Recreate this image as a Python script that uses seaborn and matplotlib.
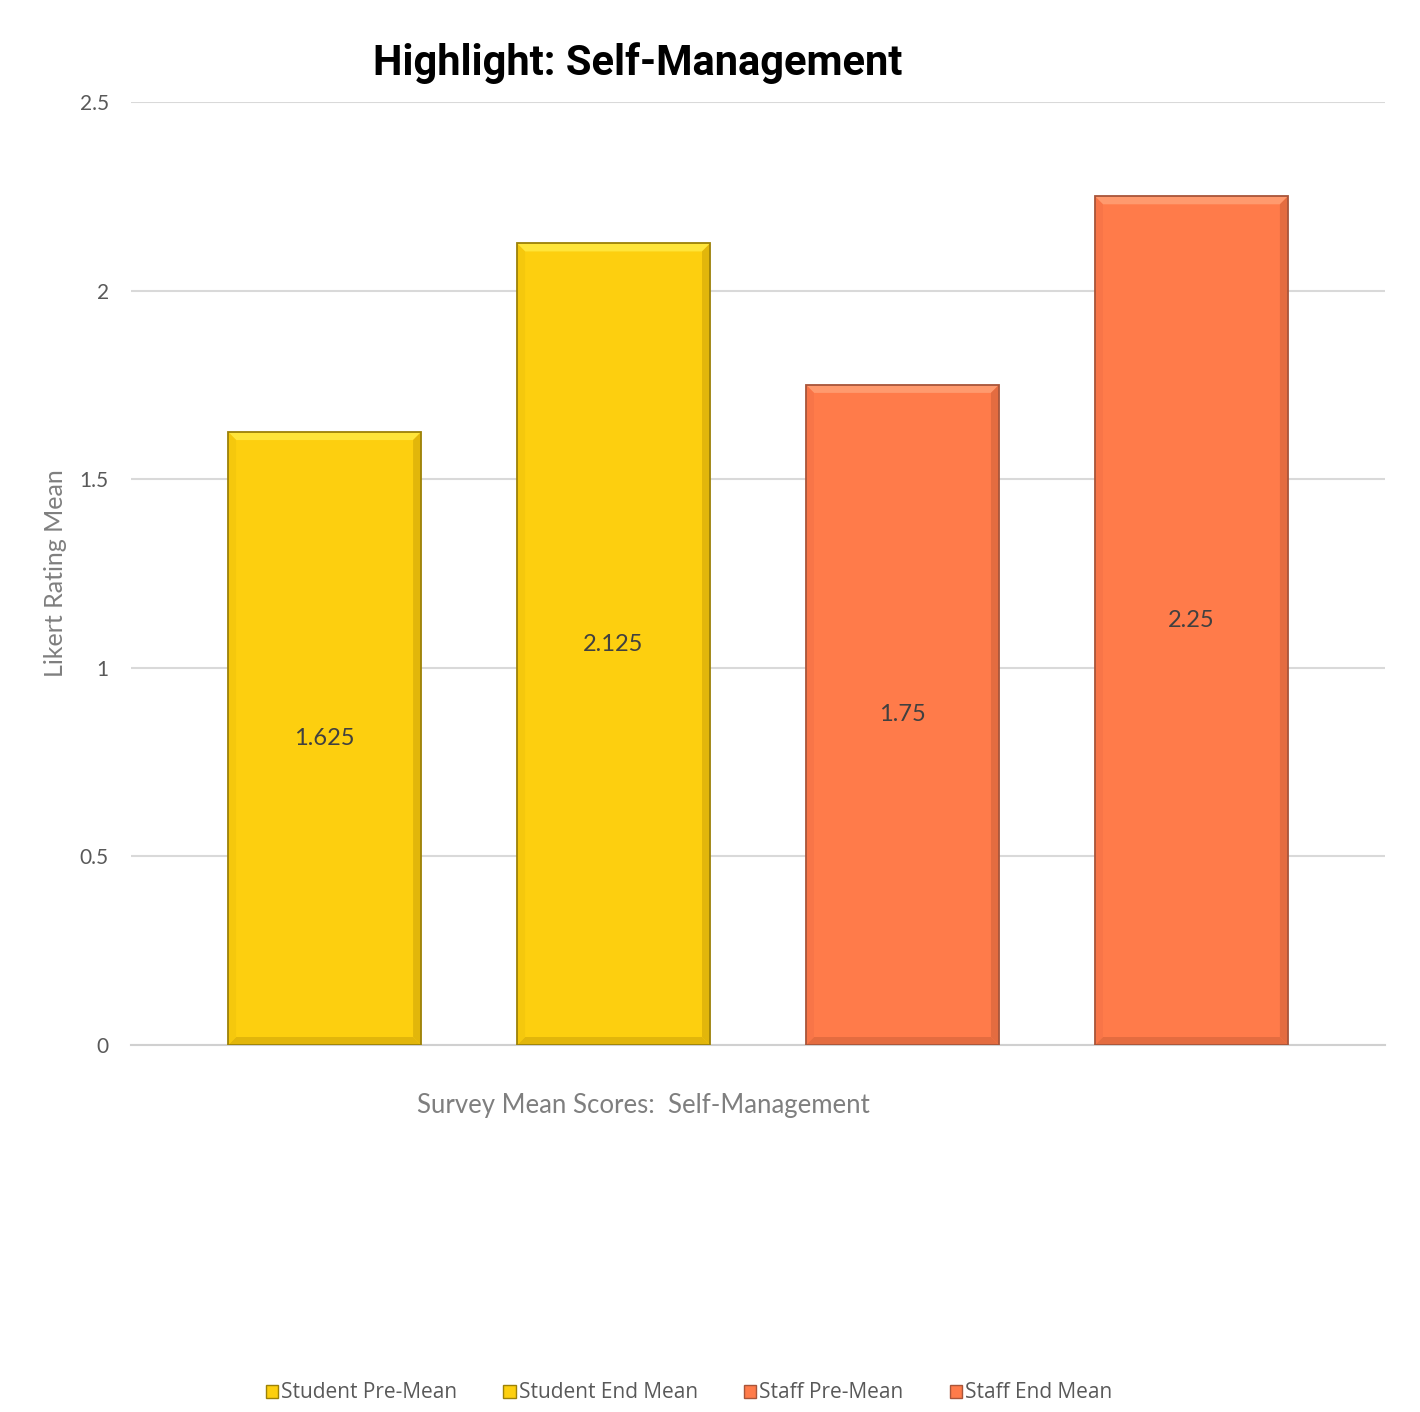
import matplotlib
matplotlib.use("Agg")
import matplotlib.pyplot as plt
import seaborn as sns
import pandas as pd
from matplotlib.patches import Patch, Polygon

categories = ["Student Pre-Mean", "Student End Mean", "Staff Pre-Mean", "Staff End Mean"]
values = [1.625, 2.125, 1.75, 2.25]
value_labels = ["1.625", "2.125", "1.75", "2.25"]
colors = ["#FDCF0F", "#FDCF0F", "#FF7B4A", "#FF7B4A"]
edge_colors = ["#9C8108", "#9C8108", "#A8553A", "#A8553A"]
top_bevel = ["#FFE53A", "#FFE53A", "#FF9A6E", "#FF9A6E"]
side_bevel = ["#F5C80D", "#F5C80D", "#F87548", "#F87548"]
bottom_bevel = ["#E2B60B", "#E2B60B", "#E46C40", "#E46C40"]
yticks = [0, 0.5, 1, 1.5, 2, 2.5]
ytick_labels = ["0", "0.5", "1", "1.5", "2", "2.5"]

sns.set_theme(style="white")
plt.rcParams["font.family"] = ["Lato", "DejaVu Sans"]

fig = plt.figure(figsize=(14.2, 14.12), dpi=100)
ax = fig.add_axes([131/1420, 1-1045/1412, (1385-131)/1420, (1045-102)/1412])

df = pd.DataFrame({"cat": categories, "val": values})
sns.barplot(data=df, x="cat", y="val", hue="cat", palette=colors, legend=False,
            width=0.668, ax=ax, saturation=1)

ax.set_xlim(1.5 - 2.17, 1.5 + 2.17)
ax.set_ylim(0, 2.5)

bars = list(ax.patches)
bx = 8 / 289.0
by = 8 * 2.5 / 943.0
for p, ec, tb, sb, bb in zip(bars, edge_colors, top_bevel, side_bevel, bottom_bevel):
    p.set_edgecolor("none")
    p.set_zorder(3)
    x0 = p.get_x(); x1 = x0 + p.get_width()
    y0 = p.get_y(); y1 = y0 + p.get_height()
    polys = [
        ([(x0, y1), (x1, y1), (x1 - bx, y1 - by), (x0 + bx, y1 - by)], tb),
        ([(x0, y0), (x1, y0), (x1 - bx, y0 + by), (x0 + bx, y0 + by)], bb),
        ([(x0, y0), (x0, y1), (x0 + bx, y1 - by), (x0 + bx, y0 + by)], sb),
        ([(x1, y0), (x1, y1), (x1 - bx, y1 - by), (x1 - bx, y0 + by)], bb),
    ]
    for pts, c in polys:
        ax.add_patch(Polygon(pts, closed=True, facecolor=c, edgecolor="none", zorder=3.1))
    ax.add_patch(Polygon([(x0, y0), (x0, y1), (x1, y1), (x1, y0)], closed=True,
                         facecolor="none", edgecolor=ec, linewidth=1.3, zorder=3.2))

for i, (v, lab) in enumerate(zip(values, value_labels)):
    ax.text(i, v/2, lab, ha="center", va="center", fontsize=17, color="#404040", zorder=4)

ax.set_yticks(yticks)
ax.set_yticklabels(ytick_labels, fontsize=15, color="#595959")
ax.set_xticks([])
ax.set_xlabel("")
ax.set_ylabel("Likert Rating Mean", fontsize=18, color="#7F7F7F", labelpad=9)
ax.tick_params(axis="y", length=0, pad=16)
ax.grid(axis="y", color="#D9D9D9", linewidth=1.5, zorder=0)
ax.set_axisbelow(True)
for s in ["top", "right", "left"]:
    ax.spines[s].set_visible(False)
ax.spines["bottom"].set_color("#D0D0D0")
ax.spines["bottom"].set_linewidth(1.5)

fig.text(638/1420, 1-63/1412, "Highlight: Self-Management", ha="center", va="center",
         fontsize=30, fontweight="bold", color="black", family=["Roboto", "DejaVu Sans"])
fig.text(643/1420, 1-1105/1412, "Survey Mean Scores:  Self-Management", ha="center", va="center",
         fontsize=18.5, color="#7F7F7F")

handles = [Patch(facecolor=c, edgecolor=e, label=l) for c, e, l in zip(colors, edge_colors, categories)]
leg = fig.legend(handles=handles, loc="center", bbox_to_anchor=(689/1420, 1-1393/1412), ncol=4,
                 frameon=False, handlelength=0.6, handleheight=0.6,
                 handletextpad=0.15, columnspacing=2.2,
                 prop={"family": ["Open Sans", "DejaVu Sans"], "size": 15})
for t in leg.get_texts():
    t.set_color("#595959")

fig.savefig("out.png", dpi=100, facecolor="white")
